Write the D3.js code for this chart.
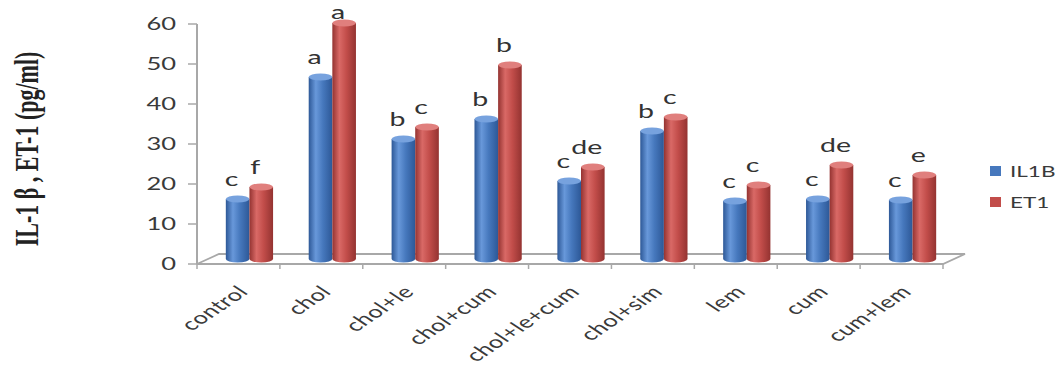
<!DOCTYPE html>
<html lang="en">
<head>
<meta charset="utf-8">
<title>IL1B / ET1</title>
<script src="https://d3js.org/d3.v7.min.js"></script>
<style>
  body { margin: 0; background: #fff; }
  svg { display: block; }
  text { font-family: Lato, "Open Sans", sans-serif; }
</style>
</head>
<body>
<svg id="chart" width="1063" height="368"></svg>
<script>
// data
var categories = ["control", "chol", "chol+le", "chol+cum", "chol+le+cum", "chol+sim", "lem", "cum", "cum+lem"];
var seriesNames = ["IL1B", "ET1"];
var il1b = [15, 45.5, 30, 35, 19.5, 32, 14.5, 15, 14.75];
var et1 = [18, 59, 33, 48.5, 23, 35.5, 18.5, 23.5, 21];
var il1bLetters = ["c", "a", "b", "b", "c", "b", "c", "c", "c"];
var et1Letters = ["f", "a", "c", "b", "de", "c", "c", "de", "e"];
var yTicks = [0, 10, 20, 30, 40, 50, 60];

(function() {
// the source picture is stretched sideways, so text is too
var stretch = 1.5;
var depthX = 22, depthY = 10;   // floor depth of the 3d plot

var svg = d3.select("#chart");
var plotLeft = 197, plotRight = 943, plotBottom = 264, plotTop = 24;

var x = d3.scaleBand().domain(categories).range([plotLeft, plotRight]);
var xs = d3.scaleBand().domain(seriesNames)
    .range([x.bandwidth() * 0.215, x.bandwidth() * 0.785]);
var y = d3.scaleLinear().domain([0, 60]).range([plotBottom, plotTop]);

var colors = {
  IL1B: { base: "#4678bd", dark: "#2d5897", light: "#6898da", cap: "#77a2de" },
  ET1:  { base: "#c24d4a", dark: "#943331", light: "#d96966", cap: "#e07f7d" }
};

var defs = svg.append("defs");
seriesNames.forEach(function(s) {
  var g = defs.append("linearGradient").attr("id", "grad" + s)
      .attr("x1", "0%").attr("x2", "100%").attr("y1", "0%").attr("y2", "0%");
  g.append("stop").attr("offset", "0%").attr("stop-color", colors[s].dark);
  g.append("stop").attr("offset", "30%").attr("stop-color", colors[s].light);
  g.append("stop").attr("offset", "60%").attr("stop-color", colors[s].base);
  g.append("stop").attr("offset", "100%").attr("stop-color", colors[s].dark);
});

// floor
var axisColor = "#a8a8a8";
svg.append("path")
  .attr("d", "M" + plotLeft + "," + plotBottom + " L" + plotRight + "," + plotBottom +
        " L" + (plotRight + depthX) + "," + (plotBottom - depthY) +
        " L" + (plotLeft + depthX) + "," + (plotBottom - depthY) + " Z")
  .attr("fill", "#fff").attr("stroke", axisColor).attr("stroke-width", 1.8);

// category ticks under the floor
svg.selectAll(".xtick").data(categories.concat(["end"])).enter().append("line")
  .attr("x1", function(d, i) { return plotLeft + i * x.bandwidth(); })
  .attr("x2", function(d, i) { return plotLeft + i * x.bandwidth(); })
  .attr("y1", plotBottom).attr("y2", plotBottom + 5)
  .attr("stroke", axisColor).attr("stroke-width", 1.5);

// value axis
svg.append("line").attr("x1", plotLeft).attr("x2", plotLeft).attr("y1", plotTop).attr("y2", plotBottom)
  .attr("stroke", axisColor).attr("stroke-width", 2);
svg.selectAll(".ytick").data(yTicks).enter().append("line")
  .attr("x1", plotLeft - 9).attr("x2", plotLeft)
  .attr("y1", function(d) { return y(d); }).attr("y2", function(d) { return y(d); })
  .attr("stroke", axisColor).attr("stroke-width", 1.5);
svg.selectAll(".ylabel").data(yTicks).enter().append("text")
  .attr("transform", function(d) { return "translate(176," + (y(d) + 6) + ") scale(" + stretch + ",1)"; })
  .attr("text-anchor", "end").attr("font-size", 17).attr("fill", "#3a3a3a")
  .text(function(d) { return d; });

// axis title
svg.append("text")
  .attr("transform", "translate(38,149) scale(" + stretch + ",1) rotate(-90)")
  .attr("text-anchor", "middle")
  .style("font-family", "'Liberation Serif', 'Times New Roman', serif")
  .attr("font-weight", "bold").attr("font-size", 22).attr("fill", "#222")
  .text("IL-1 \u03b2 , ET-1 (pg/ml)");

// bars as cylinders
var bars = [];
categories.forEach(function(c, i) {
  bars.push({ cat: c, s: "IL1B", v: il1b[i], letter: il1bLetters[i] });
  bars.push({ cat: c, s: "ET1", v: et1[i], letter: et1Letters[i] });
});
var bw = xs.bandwidth(), ry = 3.5;
var bx = function(d) { return x(d.cat) + xs(d.s) + depthX / 2; };
var by = function(d) { return y(d.v) - depthY / 2; };
var base = y(0) - depthY / 2;

var bar = svg.selectAll(".bar").data(bars).enter().append("g").attr("class", "bar");
bar.append("path")
  .attr("d", function(d) {
    var x0 = bx(d), x1 = x0 + bw, t = by(d);
    return "M" + x0 + "," + t + " L" + x0 + "," + base +
      " A" + (bw / 2) + "," + ry + " 0 0 0 " + x1 + "," + base +
      " L" + x1 + "," + t + " Z";
  })
  .attr("fill", function(d) { return "url(#grad" + d.s + ")"; });
bar.append("ellipse")
  .attr("cx", function(d) { return bx(d) + bw / 2; })
  .attr("cy", by)
  .attr("rx", bw / 2).attr("ry", ry)
  .attr("fill", function(d) { return colors[d.s].cap; });

// significance letters
bar.append("text")
  .attr("transform", function(d) {
    var ty = Math.max(by(d) - ry - 10, 19);
    return "translate(" + (bx(d) + bw / 2 - 6) + "," + ty + ") scale(" + stretch + ",1)";
  })
  .attr("text-anchor", "middle").attr("font-size", 19).attr("fill", "#333")
  .text(function(d) { return d.letter; });

// category labels
svg.selectAll(".xlabel").data(categories).enter().append("text")
  .attr("transform", function(d) {
    return "translate(" + (x(d) + x.bandwidth() / 2 + 11) + ",293) scale(" + stretch + ",1) rotate(-45)";
  })
  .attr("text-anchor", "end").attr("font-size", 17).attr("letter-spacing", 0.3)
  .attr("fill", "#3a3a3a")
  .text(function(d) { return d; });

// legend
var legend = svg.selectAll(".legend").data(seriesNames).enter().append("g")
  .attr("transform", function(d, i) { return "translate(990," + (166 + i * 31) + ")"; });
legend.append("rect").attr("width", 11).attr("height", 10)
  .attr("fill", function(d) { return colors[d].base; });
legend.append("text")
  .attr("transform", "translate(20,11) scale(" + stretch + ",1)")
  .attr("font-size", 15).attr("fill", "#3a3a3a")
  .text(function(d) { return d; });
})();
</script>
</body>
</html>
